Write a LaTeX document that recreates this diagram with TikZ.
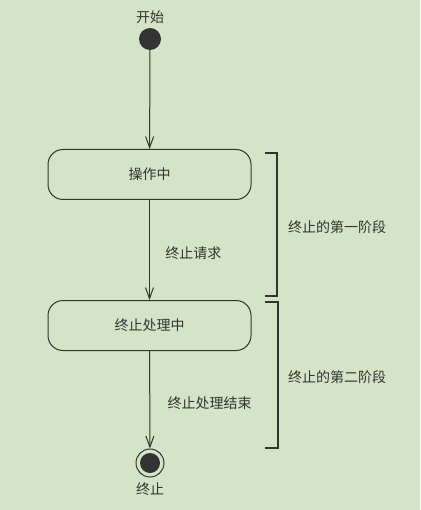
\documentclass[tikz,border=0pt]{standalone}
\usepackage{fontspec}
\setmainfont{Noto Sans CJK SC}
\usetikzlibrary{arrows.meta}
\definecolor{bgc}{HTML}{D4E4C6}
\definecolor{ink}{HTML}{333333}
\begin{document}
\begin{tikzpicture}[x=1pt,y=-1pt,
  every node/.style={font=\fontsize{14}{16}\selectfont, text=ink},
  state/.style={draw=ink, line width=1pt, rounded corners=15pt, minimum width=203pt, minimum height=50pt, inner sep=0pt},
  flow/.style={draw=ink, line width=1pt, -{Straight Barb[length=11pt,width=8pt,line width=1pt]}},
  brace/.style={draw=ink, line width=1.1pt}]
\fill[bgc] (0,0) rectangle (420,510);
\useasboundingbox (0,0) rectangle (420,510);
\node (startlbl) at (150,17) {开始};
\node[circle, fill=ink, minimum size=22pt, inner sep=0pt] (start) at (150,39) {};
\node[state] (s1) at (149.5,174.5) {操作中};
\node[state] (s2) at (149.5,325.5) {终止处理中};
\node[circle, draw=ink, line width=1pt, minimum size=28pt, inner sep=0pt] (endo) at (150,463) {};
\node[circle, fill=ink, minimum size=20pt, inner sep=0pt] (endi) at (150,463) {};
\node (endlbl) at (150,489) {终止};
\draw[flow] (start) -- (s1);
\draw[flow] (s1) -- node[anchor=west, xshift=12pt, pos=0.53] (l1) {终止请求} (s2);
\draw[flow] (s2) -- node[anchor=west, xshift=14pt, pos=0.54] (l2) {终止处理结束} (endo);
\coordinate (b1a) at (265,153);
\coordinate (b1b) at (277,153);
\coordinate (b1c) at (277,296);
\coordinate (b1d) at (265,296);
\draw[brace] (b1a) -- (b1b) -- (b1c) -- (b1d);
\coordinate (b2a) at (265,302);
\coordinate (b2b) at (278,302);
\coordinate (b2c) at (278,448);
\coordinate (b2d) at (265,448);
\draw[brace] (b2a) -- (b2b) -- (b2c) -- (b2d);
\node[anchor=west, inner sep=0pt] (p1) at (288,227) {终止的第一阶段};
\node[anchor=west, inner sep=0pt] (p2) at (288,377) {终止的第二阶段};
\end{tikzpicture}
\end{document}
